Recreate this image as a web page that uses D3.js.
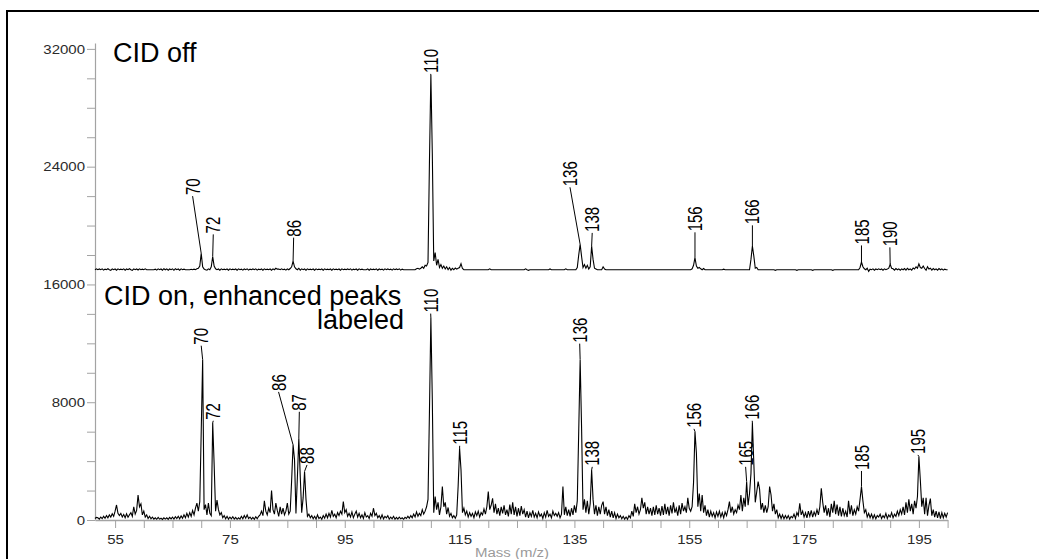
<!DOCTYPE html>
<html>
<head>
<meta charset="utf-8">
<script src="https://cdn.jsdelivr.net/npm/d3@7"></script>
<style>
  html, body { margin: 0; padding: 0; background: #fff; overflow: hidden; }
  svg { display: block; font-family: "Liberation Sans", Arial, sans-serif; }
</style>
</head>
<body>
<svg id="chart" width="1039" height="559"></svg>
<script>
// Profile spectra sampled every 0.25 m/z from 51.5 to 200.
const massStart = 51.5;
const massStep = 0.25;

// CID off: intensity above the spectrum's own baseline
const cidOff = [
  0, 60,
  0, 50, 0, 60, -30, 40, 0, 70, 0, -40, 60, 0, 50, -30, 60, 0,                 // 52
  40, 0, 60, -30, 50, 0, 70, 0, -40, 60, 0, 50, -20, 60, 0, 40,                // 56
  0, 60, 0, 0, 0, 0, 0, 0, 40, -30, 60, 0, 50, -30, 70, 0,                     // 60
  60, -30, 50, 0, 60, -40, 70, 0, 50, -30, 60, 0, 40, 0, 0, 0,                 // 64
  0, 30, 0, 40, 0, 60, 100, 250, 1110, 200, 50, 0, -30, 60, 0, 200,            // 68
  900, 250, 60, 0, 50, -30, 60, 0, 40, 0, 50, -30, 60, 0, 40, 0,               // 72
  50, -30, 60, 0, 40, -30, 50, 0, 60, -30, 40, 0, 50, 0, 60, -30,              // 76
  40, 0, 50, -30, 60, 0, 40, 0, 50, -30, 60, 0, 100, 40, 50, 0,                // 80
  60, 0, 40, -30, 60, 0, 80, 200, 590, 200, 60, 0, 100, -30, 60, 0,            // 84
  50, -30, 60, 0, 40, 0, 50, -30, 60, 0, 40, 0, 50, -30, 60, 0,                // 88
  40, 0, 50, -30, 60, 0, 40, 0, 50, -30, 60, 0, 40, 0, 50, 0,                  // 92
  60, -30, 40, 0, 50, -30, 60, 0, 40, 0, 0, 0, 60, -30, 50, 0,                 // 96
  40, 0, 60, -30, 50, 0, 40, -30, 60, 0, 50, 0, 40, -30, 60, 0,                // 100
  50, 0, 60, -30, 40, 0, 0, 0, 0, 0, 0, 0, 0, 0, 60, 100,                      // 104
  40, 100, 200, 100, 300, 250, 500, 7280, 13226, 7900, 600, 1160, 300, 700, 150, 350, // 108
  100, 250, 50, 200, 0, 150, -30, 100, 0, 120, 40, 100, 150, 410, 80, 0,       // 112
  0, 0, 0, 0, 0, 0, 0, 0, 0, 0, 0, 0, 0, 0, 0, 0,                              // 116
  0, 60, 0, 0, 0, 0, 0, 0, 0, 0, 0, 0, 0, 0, 0, 0,                             // 120
  0, 0, 0, 0, 0, 0, 0, 0, 0, 0, 60, 0, -40, 0, 0, 0,                           // 124
  0, 0, 0, 0, 0, 0, 0, 0, 0, 0, 0, 50, 0, 0, 0, 0,                             // 128
  0, 0, 0, 0, 0, 0, 60, 0, 0, 0, 0, 0, 0, 0, 150, 1000,                        // 132
  1720, 900, 150, 350, 100, 300, 50, 200, 1600, 700, 100, 50, 0, 0, 0, 0,      // 136
  200, 50, 0, 0, 0, 0, 0, 0, 0, 0, 0, 0, 0, 0, 0, 0,                           // 140
  0, 0, 0, 0, 0, 0, 0, 0, 0, 0, 0, 0, 0, 0, 0, 0,                              // 144
  0, 0, 0, 0, 0, 0, 0, 0, 0, 0, 0, 0, 0, 0, 0, 0,                              // 148
  0, 0, 0, 0, 0, 0, 0, 0, 0, 0, 0, 0, 0, 0, 60, 300,                           // 152
  815, 250, 100, 150, 60, 0, 80, 0, 0, 0, 0, 0, 0, 0, 0, 0,                    // 156
  0, 0, 0, 0, 40, 0, 0, 0, 0, 0, 0, 0, 0, 0, 0, 0,                             // 160
  0, 0, 0, 0, 0, 0, 0, 700, 1610, 925, 100, 150, 0, 0, 0, 0,                   // 164
  0, 0, 0, 0, 0, 0, 0, 0, -40, 0, 0, 0, 0, 0, 0, 0,                            // 168
  0, 0, 0, 0, 0, 0, 0, -40, 0, 0, 0, 0, 0, 0, 0, 0,                            // 172
  0, 0, -40, 0, 0, 0, 0, 0, 0, 0, 0, 0, 0, 0, 0, 0,                            // 176
  -40, 0, 0, 0, 0, 0, 0, 0, 0, 0, 0, 0, 0, 0, 0, 0,                            // 180
  0, 0, 0, 150, 520, 200, 60, 0, 100, -115, 40, 0, 60, -30, 50, 0,             // 184
  60, 0, 50, -30, 60, 0, 40, 100, 360, 100, 60, -30, 80, 0, 60, -30,           // 188
  60, 0, 80, -30, 100, 0, 60, -30, 120, 50, 200, 100, 400, 150, 100, 250,      // 192
  80, -30, 200, 50, 100, -30, 80, 0, 60, -30, 80, 0, 60, -30, 40, 0,           // 196
  0
];

// CID on
const cidOn = [
  100, 180,
  150, 60, 200, 90, 250, 120, 300, 150, 350, 200, 420, 250, 600, 1020, 450, 300,      // 52
  450, 200, 380, 150, 420, 180, 350, 500, 250, 900, 400, 650, 1700, 900, 1100, 350,   // 56
  600, 200, 350, 100, 250, 80, 200, 60, 150, 50, 180, 60, 120, 40, 150, 60,           // 60
  150, 40, 180, 80, 200, 60, 220, 100, 250, 80, 280, 120, 350, 150, 450, 200,         // 64
  500, 250, 650, 350, 800, 1150, 600, 1250, 6000, 10900, 700, 1050, 350, 1150, 450, 300, // 68
  6600, 3800, 600, 1350, 700, 350, 500, 150, 300, 80, 250, 60, 200, 80, 220, 60,      // 72
  180, 50, 150, 60, 250, 80, 300, 120, 350, 100, 200, 60, 180, 50, 220, 90,           // 76
  250, 350, 600, 300, 1300, 600, 350, 800, 500, 2000, 700, 400, 1150, 650, 250, 900,  // 80
  400, 800, 350, 600, 1150, 400, 600, 2700, 5100, 4100, 450, 2900, 5550, 2950, 500, 1500, // 84
  3300, 1400, 250, 400, 150, 300, 80, 250, 60, 350, 100, 200, 50, 300, 120, 400,      // 88
  150, 450, 200, 650, 250, 400, 150, 500, 300, 600, 400, 1250, 500, 700, 250, 450,    // 92
  200, 550, 150, 400, 600, 200, 450, 150, 350, 100, 500, 200, 300, 100, 450, 250,     // 96
  800, 300, 450, 150, 300, 100, 350, 80, 250, 150, 300, 60, 200, 80, 250, 50,         // 100
  180, 60, 200, 80, 150, 50, 180, 100, 250, 120, 300, 150, 400, 200, 550, 250,        // 104
  450, 300, 700, 400, 600, 900, 1400, 7300, 13730, 8200, 500, 1600, 700, 1200, 350, 900, // 108
  2270, 900, 1200, 400, 850, 250, 450, 150, 300, 120, 350, 2300, 4880, 3400, 500, 800, // 112
  350, 600, 200, 500, 250, 450, 150, 550, 300, 600, 200, 500, 350, 750, 400, 900,     // 116
  1930, 700, 1000, 1475, 500, 1100, 400, 800, 300, 900, 450, 1000, 350, 700, 250, 1050, // 120
  400, 1200, 350, 900, 250, 800, 300, 950, 400, 700, 200, 600, 150, 500, 250, 650,    // 124
  200, 450, 150, 550, 250, 400, 100, 500, 200, 650, 250, 400, 150, 600, 300, 450,     // 128
  250, 500, 150, 400, 2270, 350, 900, 300, 700, 250, 800, 350, 1000, 500, 1300, 6000, // 132
  10890, 6240, 700, 1400, 500, 1300, 400, 1100, 3400, 1400, 400, 1000, 300, 900, 400, 1000, // 136
  1250, 400, 900, 300, 700, 200, 600, 150, 500, 100, 400, 150, 300, 80, 250, 60,      // 140
  200, 50, 300, 150, 600, 250, 1100, 500, 900, 400, 700, 1500, 800, 1200, 400, 900,   // 144
  400, 800, 300, 900, 350, 1000, 400, 800, 300, 950, 350, 1100, 400, 900, 300, 1000,  // 148
  450, 1200, 500, 800, 300, 1000, 400, 1150, 600, 900, 500, 1500, 800, 600, 900, 2540, // 152
  6010, 4540, 900, 1800, 600, 1700, 500, 1000, 300, 700, 200, 600, 250, 500, 150, 550, // 156
  250, 600, 200, 500, 150, 550, 300, 700, 1250, 500, 900, 400, 700, 500, 1000, 700,   // 160
  1700, 600, 1500, 900, 2600, 1000, 1800, 3150, 6580, 3860, 1200, 1900, 2610, 2100, 700, 1150, // 164
  500, 1000, 500, 900, 2270, 1700, 600, 1100, 400, 700, 150, 400, 100, 350, 80, 300,  // 168
  100, 300, 60, 250, 150, 400, 100, 500, 300, 1135, 350, 600, 200, 500, 150, 600,     // 172
  250, 650, 200, 550, 300, 700, 350, 900, 2150, 1200, 500, 1000, 300, 800, 200, 1100, // 176
  500, 1300, 400, 1050, 300, 900, 250, 800, 300, 600, 200, 1300, 400, 1000, 300, 700, // 180
  400, 900, 600, 1400, 2270, 1300, 500, 700, 200, 450, 150, 400, 100, 350, 80, 300,   // 184
  200, 400, 100, 300, 150, 450, 100, 350, 200, 500, 150, 400, 250, 600, 300, 700,     // 188
  400, 900, 350, 1200, 500, 1400, 600, 1100, 400, 1300, 800, 1600, 4310, 2720, 900, 1500, // 192
  400, 1500, 300, 1000, 1450, 300, 700, 200, 600, 150, 550, 100, 500, 150, 450, 200,  // 196
  500
];

// The CID-off trace is lifted onto the upper half of the shared intensity axis
const cidOffBaseline = 17000;

// Peak annotations: [label, peak m/z, peak intensity, label m/z, label intensity]
const peakLabelsOff = [
  ["70", 70.0, 1110, 68.5, 5000],
  ["72", 72.0, 900, 72.1, 2400],
  ["86", 86.0, 590, 86.1, 2180],
  ["110", 110.0, 13226, 109.97, 13300],
  ["136", 136.0, 1720, 134.23, 5600],
  ["138", 138.0, 1600, 138.1, 2500],
  ["156", 156.0, 815, 156.0, 2540],
  ["166", 166.0, 1610, 166.0, 3015],
  ["185", 185.0, 520, 185.0, 1650],
  ["190", 190.0, 360, 189.95, 1520]
];
const peakLabelsOn = [
  ["70", 70.25, 10900, 70.0, 11840],
  ["72", 72.0, 6600, 72.1, 6740],
  ["86", 86.0, 5100, 83.47, 8700],
  ["87", 87.0, 5550, 87.09, 7350],
  ["88", 88.0, 3300, 88.43, 3740],
  ["110", 110.0, 13730, 109.97, 14020],
  ["115", 115.0, 4880, 115.02, 5040],
  ["136", 136.0, 10890, 135.92, 11980],
  ["138", 138.0, 3400, 138.11, 3610],
  ["156", 156.0, 6010, 155.82, 6190],
  ["165", 165.0, 2600, 164.82, 3610],
  ["166", 166.0, 6580, 165.97, 6740],
  ["185", 185.0, 2270, 185.0, 3330],
  ["195", 195.0, 4310, 194.83, 4420]
];

const massTicks = d3.range(55, 201, 5);
const massTickLabels = [55, 75, 95, 115, 135, 155, 175, 195];
const intensityTicks = d3.range(0, 32001, 2000);
const intensityTickLabels = [0, 8000, 16000, 24000, 32000];

const titleOff = "CID off";
const titleOn = ["CID on, enhanced peaks", "labeled"];
const massAxisTitle = "Mass (m/z)";

// ---------------------------------------------------------------
const svg = d3.select("#chart");
const x = d3.scaleLinear().domain([51.5, 200]).range([95, 947.6]);
const y = d3.scaleLinear().domain([0, 32400]).range([520, 43]);

// outer frame (only its top and left edges fall inside the view)
svg.append("rect")
  .attr("x", 7).attr("y", 11).attr("width", 1200).attr("height", 700)
  .attr("fill", "none").attr("stroke", "#000").attr("stroke-width", 2);

const axisGrey = "#a3a3a3";
const labelInk = "#2a2a2a";

// intensity axis
const yAxis = svg.append("g")
  .attr("transform", "translate(95,0)")
  .call(d3.axisLeft(y).tickValues(intensityTicks).tickSize(8).tickSizeOuter(0)
    .tickFormat(d => intensityTickLabels.includes(d) ? String(d) : ""));
yAxis.attr("color", axisGrey);
yAxis.select(".domain").attr("stroke-width", 1.2);
yAxis.selectAll(".tick line").attr("stroke-width", 1);
yAxis.selectAll(".tick text")
  .attr("x", null).attr("dy", "0.36em")
  .attr("transform", "translate(-10,0) scale(1.25,1)")
  .attr("fill", labelInk).attr("font-size", 12)
  .attr("font-family", "'Liberation Sans', Arial, sans-serif");

// mass axis
const xAxis = svg.append("g")
  .attr("transform", "translate(0,520)")
  .call(d3.axisBottom(x).tickValues(massTicks).tickSize(8).tickSizeOuter(0)
    .tickFormat(d => massTickLabels.includes(d) ? String(d) : ""));
xAxis.attr("color", axisGrey);
xAxis.select(".domain").attr("stroke-width", 1.6);
xAxis.selectAll(".tick line").attr("stroke-width", 1);
xAxis.selectAll(".tick text")
  .attr("y", null).attr("dy", null)
  .attr("transform", "translate(0,24) scale(1.25,1)")
  .attr("fill", labelInk).attr("font-size", 12)
  .attr("font-family", "'Liberation Sans', Arial, sans-serif");

svg.append("text")
  .attr("transform", "translate(512,557) scale(1.25,1)")
  .attr("text-anchor", "middle")
  .attr("font-size", 12).attr("fill", "#9a9a9a")
  .text(massAxisTitle);

// spectra
const toPoints = arr => arr.map((v, i) => [massStart + i * massStep, v]);
const offLine = d3.line().x(d => x(d[0])).y(d => y(cidOffBaseline + d[1]));
const onLine = d3.line().x(d => x(d[0])).y(d => y(d[1]));

svg.append("path").datum(toPoints(cidOff))
  .attr("d", offLine).attr("fill", "none").attr("stroke", "#000")
  .attr("stroke-width", 1.1).attr("stroke-linejoin", "miter");
svg.append("path").datum(toPoints(cidOn))
  .attr("d", onLine).attr("fill", "none").attr("stroke", "#000")
  .attr("stroke-width", 1.1).attr("stroke-linejoin", "miter");

// peak labels with leader lines
function drawPeakLabels(rows, base) {
  const g = svg.append("g");
  rows.forEach(([text, pm, pv, lm, lv]) => {
    const px = x(pm), py = y(base + pv);
    const lx = x(lm), ly = y(base + lv);
    g.append("path")
      .attr("d", d3.line()([[px, py], [lx, ly]]))
      .attr("fill", "none").attr("stroke", "#000").attr("stroke-width", 1);
    g.append("text")
      .attr("transform", `translate(${lx},${ly - 1}) scale(1.3,1) rotate(-90)`)
      .attr("dy", "0.36em")
      .attr("font-size", 15).attr("fill", "#000")
      .text(text);
  });
}
drawPeakLabels(peakLabelsOff, cidOffBaseline);
drawPeakLabels(peakLabelsOn, 0);

// panel titles
svg.append("text")
  .attr("x", 113).attr("y", 62)
  .attr("font-size", 27).attr("fill", "#000")
  .text(titleOff);
const onTitle = svg.append("text")
  .attr("font-size", 27).attr("fill", "#000");
onTitle.append("tspan").attr("x", 104).attr("y", 305).text(titleOn[0]);
onTitle.append("tspan").attr("x", 404).attr("y", 329)
  .attr("text-anchor", "end").text(titleOn[1]);
</script>
</body>
</html>
